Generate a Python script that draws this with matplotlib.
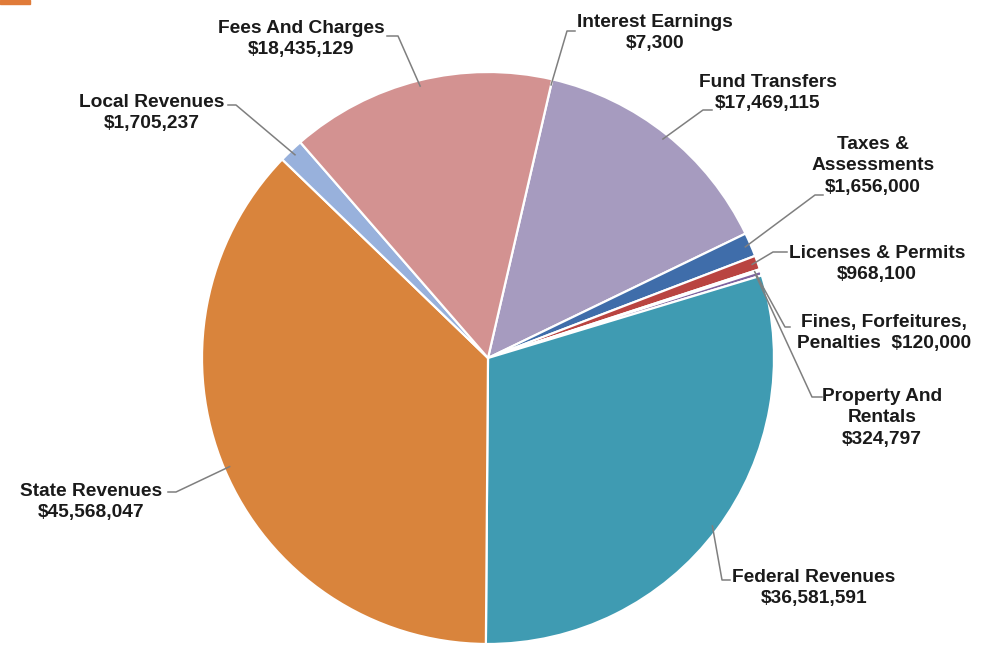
import numpy as np
import matplotlib
matplotlib.use("Agg")
import matplotlib.pyplot as plt
from matplotlib.patches import Rectangle

# ---------------------------------------------------------------------------
# Donnees (ordre horaire a partir du haut)
categories = ["Interest Earnings", "Fund Transfers", "Taxes &\nAssessments",
              "Licenses & Permits", "Fines, Forfeitures,\nPenalties",
              "Property And\nRentals", "Federal Revenues", "State Revenues",
              "Local Revenues", "Fees And Charges"]
values = [7300, 17469115, 1656000, 968100, 120000, 324797,
          36581591, 45568047, 1705237, 18435129]
colors = ["#8FB3D9", "#A69BBF", "#3F6DAA", "#B94441", "#8AA84B",
          "#7E63A0", "#3F9BB2", "#D9843C", "#98B1DC", "#D39291"]

# ---------------------------------------------------------------------------
W, H = 983, 647
cx, cy, rad = 488, 358, 286
start = 77

# position du texte (centre du bloc), bout de trait cote texte, coude
label_pos = [(655, 33), (768, 93), (873, 166), (877, 264), (884, 333),
             (882, 418), (814, 588), (91, 502), (152, 113), (301, 39)]
leader = [((575, 31), (567, 31)), ((712, 110), (703, 110)),
          ((823, 195), (815, 195)), ((787, 252), (773, 252)),
          ((790, 327), (785, 327)), ((822, 397), (812, 397)),
          ((730, 580), (722, 580)), ((168, 492), (176, 492)),
          ((228, 105), (236, 105)), ((387, 36), (398, 36))]

fig = plt.figure(figsize=(W / 100, H / 100), dpi=100)
ax = fig.add_axes([0, 0, 1, 1])

wedges, _ = ax.pie(values, colors=colors, startangle=start,
                   counterclock=False, center=(cx, H - cy), radius=rad,
                   wedgeprops=dict(edgecolor="white", linewidth=1.6),
                   frame=False)

ax.set_xlim(0, W)
ax.set_ylim(0, H)
ax.set_aspect("equal")
ax.axis("off")

for i, w in enumerate(wedges):
    ang = np.deg2rad((w.theta1 + w.theta2) / 2)
    ax_x = cx + 0.98 * rad * np.cos(ang)
    ax_y = H - cy + 0.98 * rad * np.sin(ang)
    (x0, y0), (x1, y1) = leader[i]
    ax.plot([x0, x1, ax_x], [H - y0, H - y1, ax_y],
            color="#7f7f7f", lw=1.1, zorder=3)
    txt = f"{categories[i]}\n${values[i]:,}"
    if i == 4:
        txt = f"Fines, Forfeitures,\nPenalties  ${values[i]:,}"
    tx, ty = label_pos[i]
    ax.text(tx, H - ty, txt, ha="center", va="center",
            multialignment="center", fontsize=13.8, fontweight="bold",
            family="Liberation Sans", color="#1a1a1a", linespacing=1.38)

# petite barre orange en haut a gauche
fig.patches.append(Rectangle((0, 1 - 4 / H), 30 / W, 4 / H,
                             transform=fig.transFigure,
                             color="#E07B39", zorder=5))

plt.savefig("out.png", dpi=100)
